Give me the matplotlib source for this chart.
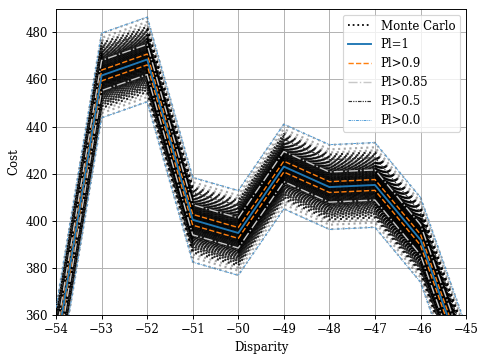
import numpy as np
import matplotlib
matplotlib.use("Agg")
import matplotlib.pyplot as plt

plt.rcParams['font.family'] = ['DejaVu Serif']

# Data
disparity = [-54, -53, -52, -51, -50, -49, -48, -47, -46, -45]
cost_mean = [345.0, 461.7, 468.5, 400.4, 394.8, 423.0, 414.3, 415.2, 391.9, 337.0]

# Monte Carlo sample offsets from the mean curve (read as spread of the band)
mc_offsets_half = [17.9, 16.0, 14.7, 13.8, 13.0, 12.4, 11.8, 11.3, 10.8, 10.4,
                   10.0, 9.6, 9.3, 8.9, 8.6, 8.3, 8.0, 7.7, 7.5, 7.2,
                   7.0, 6.7, 6.5, 6.3, 6.1, 5.9, 5.7, 5.5, 5.3, 5.1,
                   4.9, 4.7, 4.5, 4.3, 4.1, 3.9, 3.8, 3.6, 3.4, 3.2,
                   3.1, 2.9, 2.7, 2.5, 2.4, 2.2, 2.0, 1.8, 1.7, 1.5,
                   1.4, 1.2, 1.1, 0.9, 0.8, 0.6, 0.5, 0.3, 0.2, 0.05]
mc_offsets = [-v for v in mc_offsets_half] + mc_offsets_half

# Band half-widths for each possibility level
band_labels = ['Pl>0.9', 'Pl>0.85', 'Pl>0.5', 'Pl>0.0']
band_halfwidth = [2.3, 6.4, 11.6, 18.0]
band_colors = ['#ff7f0e', '#c8c8c8', '#333333', '#4a9ad8']
band_styles = ['--', '-.', (0, (3, 1, 1, 1, 1, 1)), (0, (3, 1, 1, 1, 1, 1))]
band_lw = [1.2, 1.2, 1.0, 0.8]

dpi = 85
fig = plt.figure(figsize=(479 / dpi, 355 / dpi), dpi=dpi)
ax = fig.add_axes([0.117, 0.113, 0.856, 0.862])

x = np.array(disparity)
mean = np.array(cost_mean)

for i, off in enumerate(mc_offsets):
    phase = (i % 4) * 0.65
    a = 0.35 if abs(off) > 14 else 0.85
    ax.plot(x, mean + off, color='k', linestyle=(phase, (1, 1.65)), linewidth=1.8,
            alpha=a, label=None)
ax.plot([], [], color='k', linestyle=':', linewidth=1.5, label='Monte Carlo')

ax.plot(x, mean, color='#1f77b4', linestyle='-', linewidth=1.6, label='Pl=1', zorder=5)

for lab, hw, col, ls, lw in zip(band_labels, band_halfwidth, band_colors, band_styles, band_lw):
    ax.plot(x, mean + hw, color=col, linestyle=ls, linewidth=lw, label=lab, zorder=4)
    ax.plot(x, mean - hw, color=col, linestyle=ls, linewidth=lw, zorder=4)

ax.set_xlim(-54, -45)
ax.set_ylim(360, 490)
ax.set_xticks(range(-54, -44))
ax.set_yticks(range(360, 481, 20))
ax.grid(True)
ax.set_xlabel('Disparity')
ax.set_ylabel('Cost')

leg = ax.legend(loc='upper right')

fig.savefig('out.png', dpi=dpi)
